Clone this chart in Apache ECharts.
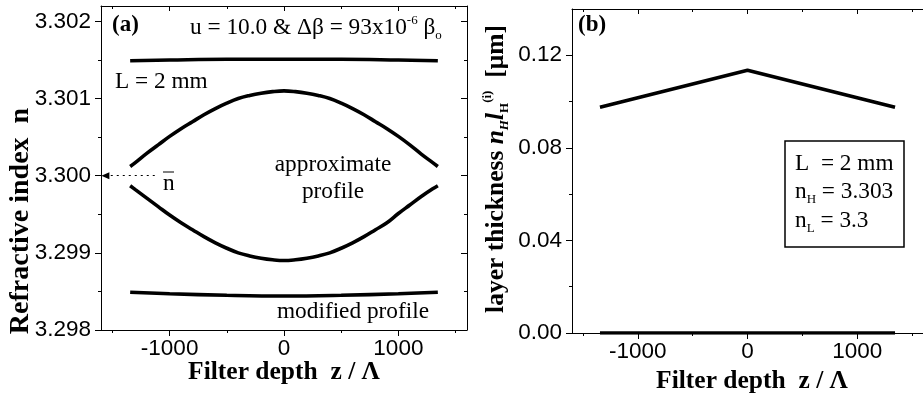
<!DOCTYPE html>
<html><head><meta charset="utf-8">
<script src="https://cdn.jsdelivr.net/npm/echarts@6/dist/echarts.min.js"></script>
<style>html,body{margin:0;padding:0;background:#fff}#c{width:923px;height:398px}</style>
</head><body><div id="c"></div><script>
// ---- data ----
const zApprox = [-1345,-1300,-1200,-1100,-1000,-900,-800,-700,-600,-500,-400,-300,-200,-100,0,100,200,300,400,500,600,700,800,900,1000,1100,1200,1300,1345];
const approxUpper = [3.30012,3.30017,3.30029,3.30040,3.30051,3.30061,3.30070,3.30079,3.30087,3.30094,3.30100,3.30104,3.30107,3.30109,3.30110,3.30109,3.30107,3.30104,3.30100,3.30094,3.30087,3.30079,3.30070,3.30061,3.30051,3.30040,3.30028,3.30017,3.30012];
const approxLower = [3.29987,3.29982,3.29971,3.29960,3.29949,3.29939,3.29930,3.29921,3.29913,3.29906,3.29900,3.29896,3.29893,3.29891,3.29890,3.29891,3.29893,3.29896,3.29900,3.29906,3.29913,3.29921,3.29930,3.29939,3.29951,3.29962,3.29973,3.29983,3.29987];
const zFlat = [-1345,-1000,-500,0,500,1000,1345];
const flatTop = [3.30149,3.30150,3.30151,3.30151,3.30151,3.30150,3.30149];
const modified = [3.29849,3.29847,3.29845,3.29844,3.29845,3.29847,3.29849];
const zThick = [-1345,0,1345];
const thickH = [0.0975,0.1135,0.0975];
const zThickL = [-1345,1345];
const thickL = [0,0];
const xMajor = [-1000,0,1000];
const xMinor = [-1500,-500,500,1500];
const yMajorA = [3.298,3.299,3.300,3.301,3.302];
const yMinorA = [3.2985,3.2995,3.3005,3.3015];
const yMajorB = [0,0.04,0.08,0.12];
const yMinorB = [0.02,0.06,0.10];

const SERIF = '"Liberation Serif","Times New Roman",serif';
const SANS = '"Liberation Sans",Arial,sans-serif';
const pair = (xs, ys) => xs.map((x, i) => [x, ys[i]]);
const TICKFONT = 22.5;

function xAx(grid, pos, ticks, len, inside, line, labels) {
  return {
    gridIndex: grid, type: 'value', min: -1600, max: 1600, position: pos,
    axisLine: { show: line, onZero: false, lineStyle: { color: '#000', width: 1 } },
    axisTick: { show: true, inside: inside, length: len, customValues: ticks, lineStyle: { color: '#000', width: 1 } },
    axisLabel: labels ? { show: true, customValues: ticks, fontSize: TICKFONT, fontFamily: SANS, color: '#000', margin: 7,
      formatter: v => String(Math.round(v)) } : { show: false },
    splitLine: { show: false }
  };
}
function yAx(grid, pos, min, max, ticks, len, inside, line, labels, dec) {
  return {
    gridIndex: grid, type: 'value', min: min, max: max, position: pos,
    axisLine: { show: line, onZero: false, lineStyle: { color: '#000', width: 1 } },
    axisTick: { show: true, inside: inside, length: len, customValues: ticks, lineStyle: { color: '#000', width: 1 } },
    axisLabel: labels ? { show: true, customValues: ticks, fontSize: TICKFONT, fontFamily: SANS, color: '#000', margin: 10,
      formatter: v => v.toFixed(dec) } : { show: false },
    splitLine: { show: false }
  };
}
const lineS = (data, xi, yi, sm) => ({
  type: 'line', data: data, xAxisIndex: xi, yAxisIndex: yi, showSymbol: false, symbol: 'none',
  lineStyle: { color: '#000', width: 3.6 }, smooth: sm || false, animation: false, z: 3
});

const approxU = lineS(pair(zApprox, approxUpper), 0, 0, 0.4);
approxU.markLine = {
  silent: true, animation: false, symbol: ['none', 'triangle'], symbolSize: [7, 8],
  label: { show: false },
  lineStyle: { type: [2, 4], color: '#000', width: 1.2 },
  data: [[{ coord: [-1130, 3.3] }, { coord: [-1562, 3.3] }]]
};

const AF = 23.3;
const sup = { fontSize: 13, fontFamily: SERIF, lineHeight: 16, verticalAlign: 'top', fill: '#000' };
const sub = { fontSize: 13, fontFamily: SERIF, lineHeight: 12, verticalAlign: 'bottom', fill: '#000' };
const reg = { fontSize: AF, fontFamily: SERIF, lineHeight: 28.5, fill: '#000' };
const TF = 25.5;

const option = {
  animation: false,
  backgroundColor: '#fff',
  grid: [
    { left: 101, top: 6, width: 366, height: 324 },
    { left: 572, top: 9, width: 362, height: 324 }
  ],
  xAxis: [
    xAx(0, 'bottom', xMajor, 6, false, true, true),
    xAx(0, 'bottom', xMinor, 3, false, false, false),
    xAx(0, 'top', xMajor, 5, true, true, false),
    xAx(0, 'top', xMinor, 3, true, false, false),
    xAx(1, 'bottom', xMajor, 6, false, true, true),
    xAx(1, 'bottom', xMinor, 3, false, false, false),
    xAx(1, 'top', xMajor, 5, true, true, false),
    xAx(1, 'top', xMinor, 3, true, false, false)
  ],
  yAxis: [
    yAx(0, 'left', 3.298, 3.3022, yMajorA, 6, false, true, true, 3),
    yAx(0, 'left', 3.298, 3.3022, yMinorA, 3, false, false, false, 3),
    yAx(0, 'right', 3.298, 3.3022, yMajorA, 6, true, true, false, 3),
    yAx(0, 'right', 3.298, 3.3022, yMinorA, 3, true, false, false, 3),
    yAx(1, 'left', 0, 0.14, yMajorB, 6, false, true, true, 2),
    yAx(1, 'left', 0, 0.14, yMinorB, 3, false, false, false, 2)
  ],
  series: [
    lineS(pair(zFlat, flatTop), 0, 0, 0.4),
    approxU,
    lineS(pair(zApprox, approxLower), 0, 0, 0.4),
    lineS(pair(zFlat, modified), 0, 0, 0.4),
    lineS(pair(zThick, thickH), 4, 4),
    lineS(pair(zThickL, thickL), 4, 4)
  ],
  graphic: [
    { type: 'text', x: 112, y: 25, style: { text: '(a)', font: 'bold 23px ' + SERIF, fill: '#000', textVerticalAlign: 'middle' } },
    { type: 'text', x: 190, y: 28, style: {
        text: '{r|u = 10.0 & Δβ = 93x10}{p|-6}{r| β}{b|o}', rich: { r: reg, p: sup, b: sub }, textVerticalAlign: 'middle' } },
    { type: 'text', x: 115, y: 82, style: { text: 'L = 2 mm', font: AF + 'px ' + SERIF, fill: '#000', textVerticalAlign: 'middle' } },
    { type: 'text', x: 333, y: 165, style: { text: 'approximate', font: AF + 'px ' + SERIF, fill: '#000', textAlign: 'center', textVerticalAlign: 'middle' } },
    { type: 'text', x: 333, y: 192, style: { text: 'profile', font: AF + 'px ' + SERIF, fill: '#000', textAlign: 'center', textVerticalAlign: 'middle' } },
    { type: 'text', x: 163, y: 184, style: { text: 'n', font: AF + 'px ' + SERIF, fill: '#000', textVerticalAlign: 'middle' } },
    { type: 'line', shape: { x1: 163, y1: 172, x2: 174, y2: 172 }, style: { stroke: '#000', lineWidth: 1 } },
    { type: 'text', x: 277, y: 312, style: { text: 'modified profile', font: AF + 'px ' + SERIF, fill: '#000', textVerticalAlign: 'middle' } },
    { type: 'text', x: 284, y: 372, style: { text: 'Filter depth  z / Λ', font: 'bold ' + TF + 'px ' + SERIF, fill: '#000', textAlign: 'center', textVerticalAlign: 'middle' } },
    { type: 'text', x: 752, y: 381, style: { text: 'Filter depth  z / Λ', font: 'bold ' + TF + 'px ' + SERIF, fill: '#000', textAlign: 'center', textVerticalAlign: 'middle' } },
    { type: 'text', x: 21, y: 221, rotation: Math.PI / 2, style: { text: 'Refractive index  n', font: 'bold 28px ' + SERIF, fill: '#000', textAlign: 'center', textVerticalAlign: 'middle' } },
    { type: 'text', x: 496, y: 169, rotation: Math.PI / 2, style: {
        text: '{b|layer thickness }{bi|n}{si|H}{bi|l}{s|H}{p|(i)}{b|  [μm]}',
        rich: {
          b: { fontSize: TF, fontWeight: 'bold', fontFamily: SERIF, lineHeight: 30, fill: '#000' },
          bi: { fontSize: TF, fontWeight: 'bold', fontStyle: 'italic', fontFamily: SERIF, lineHeight: 30, fill: '#000' },
          si: { fontSize: 13, fontWeight: 'bold', fontStyle: 'italic', fontFamily: SERIF, lineHeight: 12, verticalAlign: 'bottom', fill: '#000' },
          s: { fontSize: 13, fontWeight: 'bold', fontFamily: SERIF, lineHeight: 12, verticalAlign: 'bottom', fill: '#000' },
          p: { fontSize: 13, fontWeight: 'bold', fontFamily: SERIF, lineHeight: 16, verticalAlign: 'top', fill: '#000' }
        },
        textAlign: 'center', textVerticalAlign: 'middle' } },
    { type: 'text', x: 578, y: 25, style: { text: '(b)', font: 'bold 23px ' + SERIF, fill: '#000', textVerticalAlign: 'middle' } },
    { type: 'rect', shape: { x: 785, y: 141, width: 119, height: 106 }, style: { fill: '#fff', stroke: '#000', lineWidth: 1.5 } },
    { type: 'text', x: 795, y: 192, style: {
        text: '{r|L  = 2 mm}\n{r|n}{b|H}{r| = 3.303}\n{r|n}{b|L}{r| = 3.3}', rich: { r: reg, b: sub }, textVerticalAlign: 'middle' } }
  ]
};
const chart = echarts.init(document.getElementById('c'), null, { renderer: 'canvas' });
chart.setOption(option);
</script></body></html>
